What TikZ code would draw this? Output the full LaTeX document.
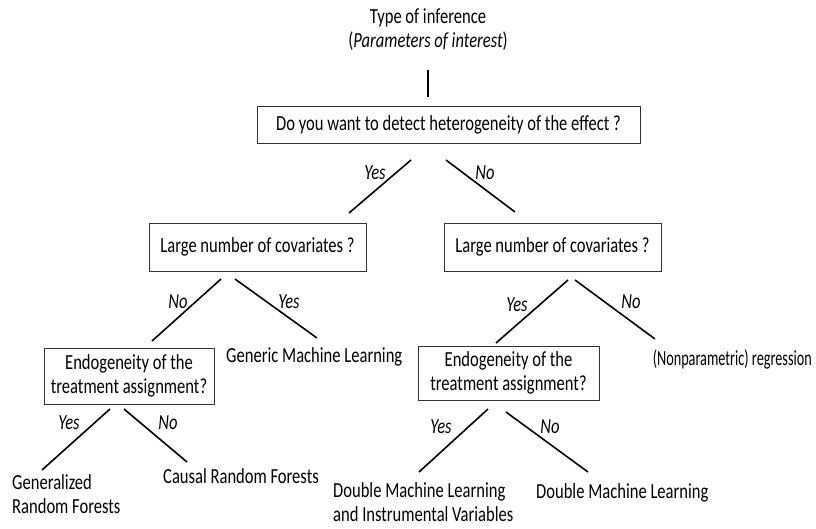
\documentclass[tikz,border=0pt]{standalone}
\usepackage{fontspec}
\setmainfont{Carlito}[FakeStretch=0.77]
\begin{document}
\begin{tikzpicture}[x=1pt,y=-1pt,
  every node/.style={font=\fontsize{21.5}{24}\selectfont},
  qbox/.style={draw=black!80,line width=1pt,inner sep=0pt,align=center},
  txt/.style={inner sep=0pt},
  lbl/.style={inner sep=0pt,font=\fontsize{21.5}{24}\selectfont\itshape},
  branch/.style={line width=1.6pt,black}]
\useasboundingbox (0,0) rectangle (816,528);
% top
\node[txt,align=center] (top) at (428,29.5) {Type of inference\\(\textit{Parameters of interest})};
\coordinate (v1) at (428,70);
\coordinate (v2) at (428,97);
\draw[branch] (v1) -- (v2);
% level 1
\node[qbox,minimum width=383,minimum height=37] (q1) at (448.5,124.5) {Do you want to detect heterogeneity of the effect ?};
\coordinate (a1) at (411,160); \coordinate (a2) at (349,213);
\coordinate (b1) at (446,160); \coordinate (b2) at (515,212);
\draw[branch] (a1) -- (a2);
\draw[branch] (b1) -- (b2);
\node[lbl] (y1) at (375,173) {Yes};
\node[lbl] (n1) at (485,173) {No};
% level 2
\node[qbox,minimum width=217,minimum height=48] (q2l) at (257.5,247) {Large number of covariates ?};
\node[qbox,minimum width=217,minimum height=48] (q2r) at (552.5,247) {Large number of covariates ?};
\coordinate (c1) at (221,279); \coordinate (c2) at (152,341);
\coordinate (d1) at (235,279); \coordinate (d2) at (317,338);
\draw[branch] (c1) -- (c2);
\draw[branch] (d1) -- (d2);
\node[lbl] (n2) at (178,302) {No};
\node[lbl] (y2) at (289,302) {Yes};
\coordinate (e1) at (568,280); \coordinate (e2) at (496,343);
\coordinate (f1) at (575,280); \coordinate (f2) at (655,339);
\draw[branch] (e1) -- (e2);
\draw[branch] (f1) -- (f2);
\node[lbl] (y3) at (517,305) {Yes};
\node[lbl] (n3) at (631,302) {No};
\node[txt,anchor=west] (gml) at (226,357) {Generic Machine Learning};
\node[txt,anchor=east] (npr) at (812,359) {\scalebox{0.86}[1]{(Nonparametric) regression}};
% level 3
\node[qbox,minimum width=170,minimum height=56] (q3l) at (129,376) {Endogeneity of the\\treatment assignment?};
\node[qbox,minimum width=181,minimum height=54] (q3r) at (508.5,373) {Endogeneity of the\\treatment assignment?};
\coordinate (g1) at (110,409); \coordinate (g2) at (42,470);
\coordinate (h1) at (124,409); \coordinate (h2) at (187,462);
\draw[branch] (g1) -- (g2);
\draw[branch] (h1) -- (h2);
\node[lbl] (y4) at (69,423) {Yes};
\node[lbl] (n4) at (168,423) {No};
\coordinate (i1) at (488,409); \coordinate (i2) at (419,472);
\coordinate (j1) at (506,412); \coordinate (j2) at (588,472);
\draw[branch] (i1) -- (i2);
\draw[branch] (j1) -- (j2);
\node[lbl] (y5) at (441,427) {Yes};
\node[lbl] (n5) at (550,427) {No};
% leaves
\node[txt,anchor=west,align=left] (grf) at (12,494) {Generalized\\Random Forests};
\node[txt,anchor=west] (crf) at (163,476) {Causal Random Forests};
\node[txt,anchor=west,align=left] (dmliv) at (333,502) {Double Machine Learning\\and Instrumental Variables};
\node[txt,anchor=west] (dml) at (536,493) {Double Machine Learning};
\end{tikzpicture}
\end{document}
